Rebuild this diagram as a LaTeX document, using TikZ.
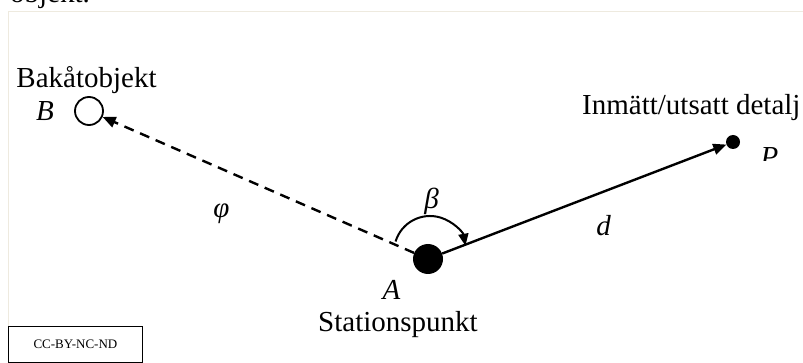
\documentclass[tikz,border=0pt]{standalone}
\usepackage{fontspec}
\setmainfont{Liberation Serif}
\usetikzlibrary{arrows.meta}
\definecolor{framecol}{HTML}{EEEADF}
\begin{document}
\begin{tikzpicture}[x=1pt,y=1pt,
  lbl/.style={inner sep=0pt, font=\fontsize{29}{33}\selectfont},
  ilbl/.style={inner sep=0pt, font=\fontsize{29}{33}\selectfont\itshape},
  conn/.style={line width=2.4pt, -{Triangle[length=13pt,width=11pt]}},
  dashconn/.style={conn, dash pattern=on 10pt off 7pt},
  anglearc/.style={line width=2pt, -{Triangle[length=12pt,width=10pt]}},
  ]
\useasboundingbox (0,0) rectangle (803,-363);
% frame of the page
\draw[framecol, line width=1.5pt] (8.5,-326) -- (8.5,-11.5) -- (803,-11.5);
\node[lbl, anchor=base west] (prev) at (10,-3) {objekt.};
% points
\node[circle, draw, line width=1.8pt, minimum size=28pt, inner sep=0pt] (B) at (89,-111) {};
\node[circle, fill, minimum size=30pt, inner sep=0pt] (A) at (428,-259) {};
\node[circle, fill, minimum size=14pt, inner sep=0pt] (P) at (733,-142) {};
% connectors
\draw[dashconn] (A) -- (B);
\draw[conn] (A) -- (P);
\coordinate (arcc) at (430,-252);
\draw[anglearc] ([shift={(163:36)}]arcc) arc[start angle=163, end angle=10, radius=36];
% labels
\node[lbl, anchor=base] (bak) at (86.5,-88) {Bakåtobjekt};
\node[ilbl] (Bl) at (45,-111.5) {B};
\node[ilbl] (Al) at (391.5,-290) {A};
\node[lbl, anchor=base] (stat) at (398,-331) {Stationspunkt};
\node[lbl, anchor=base west] (inm) at (582,-115) {Inmätt/utsatt detalj};
\begin{scope}
\clip (750,-146) rectangle (795,-161);
\node[ilbl] (Pl) at (769.5,-157.5) {P};
\end{scope}
\node[ilbl] (beta) at (431.5,-201) {β};
\node[ilbl] (phi) at (221.5,-214) {φ};
\node[ilbl] (dl) at (603.5,-226) {d};
\node[draw, line width=1pt, minimum width=134.5pt, minimum height=36pt, inner sep=0pt,
      font=\fontsize{13}{15}\selectfont] (cc) at (75.4,-344) {CC-BY-NC-ND};
\end{tikzpicture}
\end{document}
